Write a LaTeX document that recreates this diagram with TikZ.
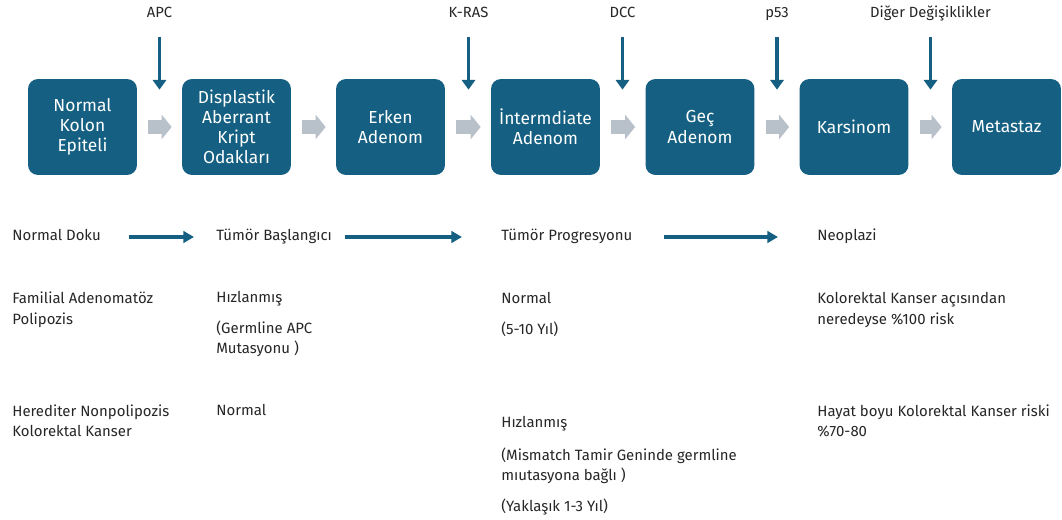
\documentclass[tikz,border=0pt]{standalone}
\usepackage{fontspec}
\setmainfont{Fira Sans}
\usetikzlibrary{arrows.meta}
\definecolor{boxblue}{HTML}{156082}
\definecolor{arrowgray}{HTML}{B8C0CA}
\definecolor{textgray}{HTML}{262626}
\tikzset{
    stage/.style={rectangle, rounded corners=0.2cm, fill=boxblue, text=white, minimum width=2.18cm, minimum height=1.92cm, align=center, font=\fontsize{9.9}{11.4}\selectfont, inner sep=2pt},
    gene/.style={text=textgray, font=\fontsize{8.4}{11}\selectfont, inner sep=0pt, text height=0.22cm, text depth=0.06cm},
    head/.style={anchor=west, text=textgray, font=\fontsize{8.5}{11}\selectfont, inner sep=0pt, text height=0.22cm, text depth=0.06cm},
    cell/.style={anchor=north west, align=left, text=textgray, font=\fontsize{8.5}{11.7}\selectfont, inner sep=0pt},
    blockarrow/.style={draw=arrowgray, line width=0.28cm, -{Triangle[length=0.2cm, width=0.48cm]}, shorten <=0.22cm, shorten >=0.2cm},
    genearrow/.style={draw=boxblue, line width=1.8pt, -{Triangle[length=5.5pt, width=7.5pt]}, shorten <=0.32cm, shorten >=-0.22cm},
    rowarrow/.style={draw=boxblue, line width=2.3pt, -{Triangle[length=6pt, width=6.5pt]}}
}
\begin{document}
\begin{tikzpicture}[x=0.02cm, y=-0.02cm]
    \useasboundingbox (0,0) rectangle (1062,520);

    \node[stage] (normal) at (82.5,127) {Normal\\Kolon\\Epiteli};
    \node[stage] (dak) at (236.5,127) {Displastik\\Aberrant\\Kript\\Odakları};
    \node[stage] (erken) at (390.5,127) {Erken\\Adenom};
    \node[stage] (inter) at (545.5,127) {İntermdiate\\Adenom};
    \node[stage] (gec) at (700,127) {Geç\\Adenom};
    \node[stage] (karsinom) at (854,127) {Karsinom};
    \node[stage] (metastaz) at (1006.5,127) {Metastaz};

    \draw[blockarrow] (normal) -- (dak);
    \draw[blockarrow] (dak) -- (erken);
    \draw[blockarrow] (erken) -- (inter);
    \draw[blockarrow] (inter) -- (gec);
    \draw[blockarrow] (gec) -- (karsinom);
    \draw[blockarrow] (karsinom) -- (metastaz);

    \node[gene] (apc) at (159.5,14) {APC};
    \node[gene] (kras) at (468.5,14) {K-RAS};
    \node[gene] (dcc) at (622.5,14) {DCC};
    \node[gene] (p53) at (777,14) {p53};
    \node[gene] (diger) at (930.5,14) {Diğer Değişiklikler};

    \draw[genearrow] (apc) -- (apc |- normal.north);
    \draw[genearrow] (kras) -- (kras |- erken.north);
    \draw[genearrow] (dcc) -- (dcc |- inter.north);
    \draw[genearrow] (p53) -- (p53 |- gec.north);
    \draw[genearrow] (diger) -- (diger |- karsinom.north);

    \node[head] (doku) at (12,237) {Normal Doku};
    \node[head] (baslangic) at (216,237) {Tümör Başlangıcı};
    \node[head] (progresyon) at (501,237) {Tümör Progresyonu};
    \node[head] (neoplazi) at (817,237) {Neoplazi};

    \draw[rowarrow, shorten <=0.56cm, shorten >=0.44cm] (doku) -- (baslangic);
    \draw[rowarrow, shorten <=0.26cm, shorten >=0.78cm] (baslangic) -- (progresyon);
    \draw[rowarrow, shorten <=0.62cm, shorten >=0.78cm] (progresyon) -- (neoplazi);

    \node[cell] (fap) at (12,292) {Familial Adenomatöz\\Polipozis};
    \node[cell] (fapstart) at (216,291) {Hızlanmış\\[0.2cm](Germline APC\\Mutasyonu )};
    \node[cell] (fapprog) at (501,292) {Normal\\[0.2cm](5-10 Yıl)};
    \node[cell] (faprisk) at (817,292) {Kolorektal Kanser açısından\\neredeyse \%100 risk};

    \node[cell] (hnpcc) at (12,404) {Herediter Nonpolipozis\\Kolorektal Kanser};
    \node[cell] (hnpccstart) at (216,404) {Normal};
    \node[cell] (hnpccprog) at (501,416) {Hızlanmış\\[0.24cm](Mismatch Tamir Geninde germline\\mıutasyona bağlı )\\[0.2cm](Yaklaşık 1-3 Yıl)};
    \node[cell] (hnpccrisk) at (817,404) {Hayat boyu Kolorektal Kanser riski\\\%70-80};
\end{tikzpicture}
\end{document}
